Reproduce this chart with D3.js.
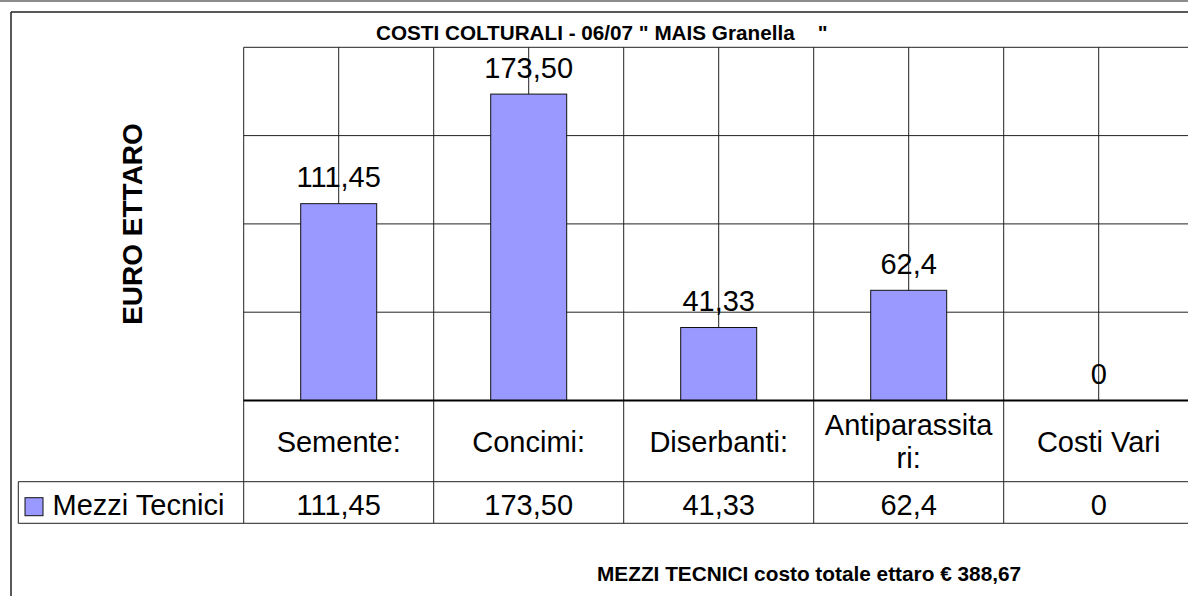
<!DOCTYPE html>
<html>
<head>
<meta charset="utf-8">
<script src="https://cdn.jsdelivr.net/npm/d3@7"></script>
<style>
  body { margin: 0; background: #fff; }
  #chart { width: 1188px; height: 596px; overflow: hidden; }
  text { font-family: "Liberation Sans", Arial, sans-serif; fill: #000; }
</style>
</head>
<body>
<div id="chart"></div>
<script>
  const w = 1188;
  const h = 596;

  // data
  const categories = ["Semente:", "Concimi:", "Diserbanti:", "Antiparassitari:", "Costi Vari"];
  const categoryLines = [["Semente:"], ["Concimi:"], ["Diserbanti:"], ["Antiparassita", "ri:"], ["Costi Vari"]];
  const values = [111.45, 173.50, 41.33, 62.4, 0];
  const valueLabels = ["111,45", "173,50", "41,33", "62,4", "0"];
  const yTicks = [0, 50, 100, 150, 200];
  const seriesName = "Mezzi Tecnici";
  const title = "COSTI COLTURALI - 06/07 \" MAIS Granella    \"";
  const yTitle = "EURO ETTARO";
  const footer = "MEZZI TECNICI costo totale ettaro € 388,67";

  const barColor = "#9999ff";

  const plotLeft = 243.7, plotRight = 1193.7, plotTop = 47.3, plotBase = 400.5;
  const rowCat = 481.7, rowVal = 523.3, legendLeft = 18.3;

  var svg = d3.select("#chart")
    .append("svg")
    .attr("width", w)
    .attr("height", h);

  const x = d3.scaleBand().domain(categories).range([plotLeft, plotRight]);
  const y = d3.scaleLinear().domain([0, 200]).range([plotBase, plotTop]);
  const bw = x.bandwidth();

  function line(pts, color, width) {
    svg.append("path")
      .attr("d", d3.line()(pts))
      .style("fill", "none")
      .style("stroke", color)
      .style("stroke-width", width + "px");
  }

  // outer lines
  line([[0, 1], [w, 1]], "#666", 1.5);
  line([[11, 12], [w, 12]], "#222", 1.5);
  line([[11, 12], [11, h]], "#222", 1.5);

  // horizontal grid
  yTicks.slice(1).forEach(t => line([[plotLeft, y(t)], [plotRight, y(t)]], "#222", 1));

  // vertical grid: band centers
  categories.forEach(c => line([[x(c) + bw / 2, plotTop], [x(c) + bw / 2, plotBase]], "#222", 1));
  // band boundaries extend into the data table
  categories.forEach(c => line([[x(c), plotTop], [x(c), rowVal]], "#222", 1));

  // bars
  svg.selectAll("rect.bar")
    .data(values)
    .enter().append("rect")
    .attr("class", "bar")
    .attr("x", (d, i) => x(categories[i]) + bw * 0.3)
    .attr("width", bw * 0.4)
    .attr("y", d => y(d))
    .attr("height", d => plotBase - y(d))
    .style("fill", barColor)
    .style("stroke", "#111")
    .style("stroke-width", "1px");

  // value labels
  svg.selectAll("text.val")
    .data(values)
    .enter().append("text")
    .attr("class", "val")
    .attr("x", (d, i) => x(categories[i]) + bw / 2)
    .attr("y", d => y(d) - 16.5)
    .attr("text-anchor", "middle")
    .style("font-size", "29px")
    .text((d, i) => valueLabels[i]);

  // baseline
  line([[plotLeft, plotBase], [plotRight, plotBase]], "#000", 2);

  // data table
  line([[legendLeft, rowCat], [plotRight, rowCat]], "#222", 1);
  line([[legendLeft, rowVal], [plotRight, rowVal]], "#222", 1);
  line([[legendLeft, rowCat], [legendLeft, rowVal]], "#222", 1);

  categoryLines.forEach((lines, i) => {
    var cx = x(categories[i]) + bw / 2;
    var mid = (plotBase + rowCat) / 2;
    var lh = 32.7;
    lines.forEach((s, j) => {
      svg.append("text")
        .attr("x", cx)
        .attr("y", mid + 10.5 + (j - (lines.length - 1) / 2) * lh)
        .attr("text-anchor", "middle")
        .style("font-size", "29px")
        .text(s);
    });
    svg.append("text")
      .attr("x", cx)
      .attr("y", 515)
      .attr("text-anchor", "middle")
      .style("font-size", "29px")
      .text(valueLabels[i]);
  });

  // legend key
  svg.append("rect")
    .attr("x", 25).attr("y", 497.7)
    .attr("width", 18).attr("height", 18)
    .style("fill", barColor)
    .style("stroke", "#111")
    .style("stroke-width", "1px");
  svg.append("text")
    .attr("x", 52.5).attr("y", 515)
    .style("font-size", "29px")
    .text(seriesName);

  // titles
  svg.append("text")
    .attr("x", 376).attr("y", 39.5)
    .style("font-size", "20.7px")
    .style("font-weight", "bold")
    .style("white-space", "pre")
    .attr("xml:space", "preserve")
    .text(title);

  svg.append("text")
    .attr("transform", "translate(142,224) rotate(-90)")
    .attr("text-anchor", "middle")
    .style("font-size", "28px")
    .style("font-weight", "bold")
    .text(yTitle);

  svg.append("text")
    .attr("x", 597).attr("y", 581)
    .style("font-size", "20.8px")
    .style("font-weight", "bold")
    .text(footer);
</script>
</body>
</html>
